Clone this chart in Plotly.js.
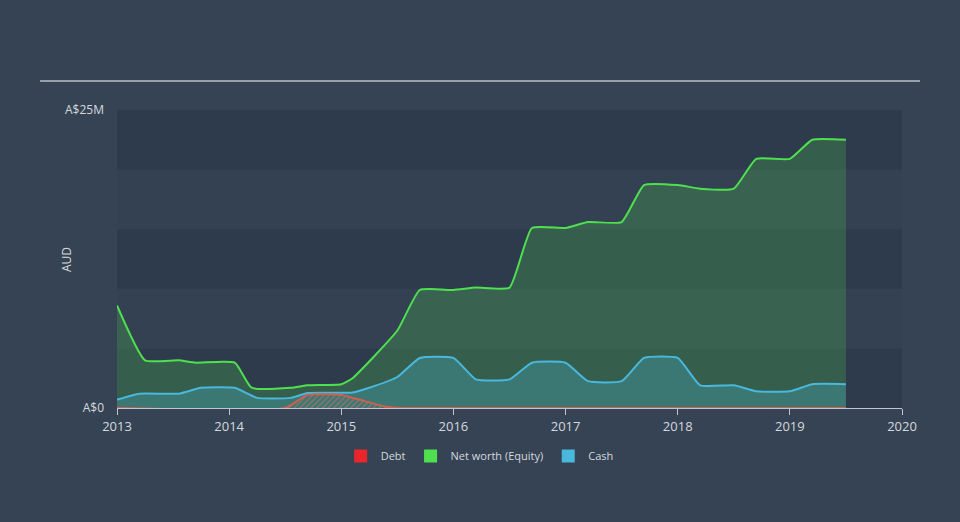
<!DOCTYPE html>
<html>
<head>
<meta charset="utf-8">
<script src="https://cdn.plot.ly/plotly-3.0.1.min.js"></script>
<style>html,body{margin:0;padding:0;background:#354354;}#chart{width:960px;height:522px;}</style>
</head>
<body>
<div id="chart"></div>
<script>
// Data (years as decimals, values in millions AUD)
const equityX = [2013.0, 2013.25, 2013.55, 2013.7, 2014.05, 2014.2, 2014.55, 2014.7, 2015.0, 2015.1, 2015.5, 2015.7, 2016.0, 2016.2, 2016.5, 2016.7, 2017.0, 2017.2, 2017.5, 2017.7, 2018.0, 2018.2, 2018.5, 2018.7, 2019.0, 2019.2, 2019.5];
const equityY = [8.6, 4.0, 4.0, 3.8, 3.8, 1.7, 1.7, 1.9, 2.0, 2.5, 6.5, 9.9, 9.9, 10.1, 10.1, 15.1, 15.1, 15.6, 15.6, 18.7, 18.7, 18.4, 18.4, 20.9, 20.9, 22.5, 22.5];

const cashX = [2013.0, 2013.2, 2013.55, 2013.75, 2014.05, 2014.25, 2014.55, 2014.7, 2015.1, 2015.25, 2015.5, 2015.7, 2016.0, 2016.2, 2016.5, 2016.7, 2017.0, 2017.2, 2017.5, 2017.7, 2018.0, 2018.2, 2018.5, 2018.7, 2019.0, 2019.2, 2019.5];
const cashY = [0.7, 1.2, 1.2, 1.7, 1.7, 0.85, 0.85, 1.25, 1.3, 1.7, 2.6, 4.2, 4.2, 2.4, 2.4, 3.8, 3.8, 2.25, 2.25, 4.2, 4.2, 1.9, 1.9, 1.4, 1.4, 2.0, 2.0];

const debtX = [2013.0, 2014.5, 2014.7, 2015.0, 2015.2, 2015.4, 2015.55, 2019.5];
const debtY = [0, 0, 1.1, 1.1, 0.6, 0.1, 0, 0];

const yTickVals = [0, 25];
const yTickText = ['A$0', 'A$25M'];
const xTickVals = [2013, 2014, 2015, 2016, 2017, 2018, 2019, 2020];
const xTickText = ['2013', '2014', '2015', '2016', '2017', '2018', '2019', '2020'];
const seriesNames = ['Debt', 'Net worth (Equity)', 'Cash'];
const legendColors = ['#e8262b', '#4fe04f', '#48b8dc'];

const traces = [
  {
    x: equityX, y: equityY, name: seriesNames[1], type: 'scatter', mode: 'lines', showlegend: false,
    line: {color: '#4fe04f', width: 2, shape: 'spline', smoothing: 0.45},
    fill: 'tozeroy', fillcolor: 'rgba(70,160,80,0.35)'
  },
  {
    x: cashX, y: cashY, name: seriesNames[2], type: 'scatter', mode: 'lines', showlegend: false,
    line: {color: '#48b8dc', width: 2, shape: 'spline', smoothing: 0.45},
    fill: 'tozeroy', fillcolor: 'rgba(70,170,190,0.35)'
  },
  {
    x: debtX, y: debtY, name: seriesNames[0], type: 'scatter', mode: 'lines', showlegend: false,
    line: {color: '#d0604e', width: 2, shape: 'spline', smoothing: 0.45},
    fill: 'tozeroy', fillcolor: 'rgba(0,0,0,0)',
    fillpattern: {shape: '/', fgcolor: 'rgba(200,110,100,0.7)', bgcolor: 'rgba(0,0,0,0)', size: 4, solidity: 0.3}
  }
];
// legend-only entries with square swatches
seriesNames.forEach((n, i) => {
  traces.push({x: [null], y: [null], name: n, type: 'scatter', mode: 'markers',
    marker: {symbol: 'square', size: 13, color: legendColors[i]}, showlegend: true, legendrank: i + 1});
});

const bandColorDark = '#2e3b4c';
const bandColorLight = '#334152';
const shapes = [];
for (let i = 0; i < 5; i++) {
  shapes.push({type: 'rect', xref: 'paper', yref: 'y', x0: 0, x1: 1, y0: i * 5, y1: (i + 1) * 5,
    fillcolor: (i % 2 === 0) ? bandColorDark : bandColorLight, line: {width: 0}, layer: 'below'});
}
shapes.push({type: 'line', xref: 'paper', yref: 'paper', x0: -0.098, x1: 1.023, y0: 1.097, y1: 1.097,
  line: {color: '#b8bec6', width: 1.5}});

const layout = {
  width: 960, height: 522,
  paper_bgcolor: '#354354', plot_bgcolor: 'rgba(0,0,0,0)',
  margin: {l: 117, r: 58, t: 110, b: 114},
  font: {family: 'Open Sans, Arial, sans-serif', color: '#d5d9de', size: 12},
  showlegend: true,
  legend: {orientation: 'h', x: 0.462, xanchor: 'center', y: -0.161, yanchor: 'middle',
    font: {size: 11, color: '#d5d9de'}, bgcolor: 'rgba(0,0,0,0)', itemwidth: 30},
  xaxis: {range: [2013, 2020], tickvals: xTickVals, ticktext: xTickText, showgrid: false, zeroline: false,
    showline: true, linecolor: '#c0c6cc', linewidth: 1, ticks: 'outside', ticklen: 6, tickcolor: '#c0c6cc',
    tickfont: {size: 13, color: '#d5d9de'}, fixedrange: true},
  yaxis: {range: [0, 25], tickvals: yTickVals, ticktext: yTickText, showgrid: false, zeroline: false,
    showline: false, ticks: '', ticklabelstandoff: 12,
    tickfont: {size: 12, color: '#d5d9de'}, fixedrange: true},
  annotations: [{text: 'AUD', xref: 'paper', yref: 'paper', x: -0.065, y: 0.5, xanchor: 'center', yanchor: 'middle',
    textangle: -90, showarrow: false, font: {size: 12, color: '#d5d9de'}}],
  shapes: shapes
};

Plotly.newPlot('chart', traces, layout, {displayModeBar: false, staticPlot: true});
</script>
</body>
</html>
